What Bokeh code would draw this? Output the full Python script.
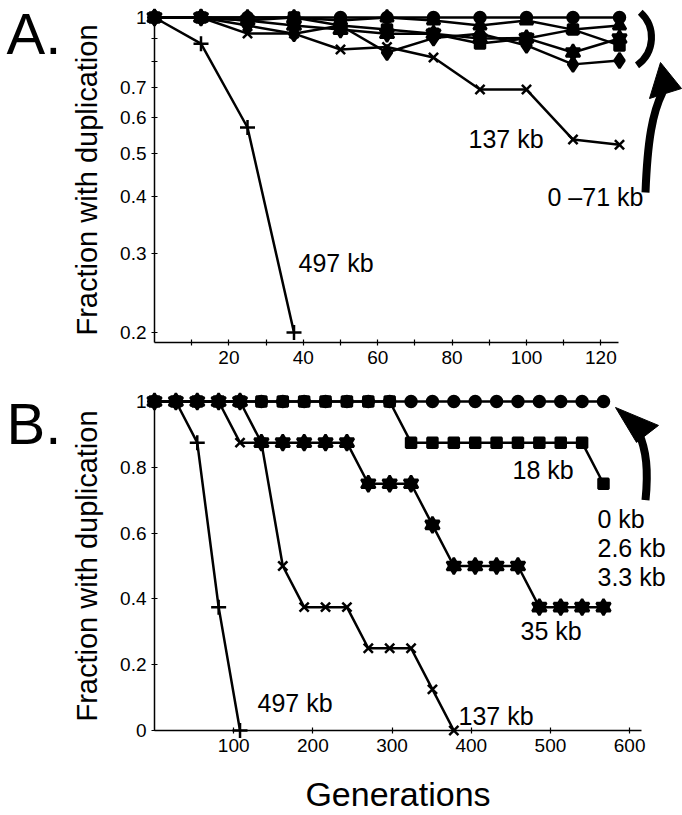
import numpy as np
from bokeh.plotting import figure
from bokeh.layouts import column
from bokeh.models import Range1d, FixedTicker
from bokeh.core.properties import value
from bokeh.embed import file_html
from bokeh.resources import INLINE

FONT = "Liberation Sans"

# ---- Panel A: fraction of lines keeping the duplication (log scale) ----
gen_a = [0, 12.5, 25, 37.5, 50, 62.5, 75, 87.5, 100, 112.5, 125]
a_circle = [1, 1, 1, 1, 1, 1, 1, 1, 1, 1, 1]
a_triangle = [1, 1, 1, 1, 0.985, 1, 0.985, 0.96, 0.985, 0.94, 0.96]
a_square = [1, 1, 0.985, 1, 0.96, 0.94, 0.92, 0.876, 0.898, 0.94, 0.867]
a_diamond = [1, 1, 0.96, 0.92, 0.96, 0.836, 0.9, 0.92, 0.867, 0.787, 0.803]
a_star = [1, 1, 0.985, 0.96, 0.94, 0.92, 0.92, 0.898, 0.9, 0.836, 0.898]
a_137kb = [1, 1, 0.921, 0.921, 0.849, 0.86, 0.815, 0.692, 0.692, 0.536, 0.522]
a_497kb = [1, 0.875, 0.57, 0.2]

a_yticks = [1, 0.7, 0.6, 0.5, 0.4, 0.3, 0.2]
a_yminor = [0.9, 0.8]
a_xticks = [20, 40, 60, 80, 100, 120]
a_xminor = [10, 30, 50, 70, 90, 110]

# ---- Panel B: long-term experiment (linear scale) ----
gen_b = [0, 27, 54, 81, 108, 135, 162, 189, 216, 243, 270,
         297, 324, 351, 378, 405, 432, 459, 486, 513, 540, 567]
b_0kb = [1, 1, 1, 1, 1, 1, 1, 1, 1, 1, 1,
         1, 1, 1, 1, 1, 1, 1, 1, 1, 1, 1]
b_18kb = [1, 1, 1, 1, 1, 1, 1, 1, 1, 1, 1,
          1, 0.875, 0.875, 0.875, 0.875, 0.875, 0.875, 0.875, 0.875, 0.875, 0.75]
b_35kb = [1, 1, 1, 1, 1, 0.875, 0.875, 0.875, 0.875, 0.875, 0.75,
          0.75, 0.75, 0.625, 0.5, 0.5, 0.5, 0.5, 0.375, 0.375, 0.375, 0.375]
b_137kb = [1, 1, 1, 1, 0.875, 0.875, 0.5, 0.375, 0.375, 0.375, 0.25,
           0.25, 0.25, 0.125, 0]
b_497kb = [1, 1, 0.875, 0.375, 0]

b_yticks = [0, 0.2, 0.4, 0.6, 0.8, 1]
b_xticks = [100, 200, 300, 400, 500, 600]

W = 682
HA, HB = 372, 443

# frame geometry of each panel on the page (pixels); both frames share edges
L, R = 154, 641
A_T, A_B = 17, 342
B_T, B_B = 401, 731
A_X = (0, 125 * (R - L) / (619 - L))   # gens 0..125 span 154..619 px
A_Y = (0.19, 1.0)
B_X = (0, 615)
B_Y = (0, 1)


def a_xy(px, py):
    x = A_X[0] + (px - L) / (R - L) * (A_X[1] - A_X[0])
    l0, l1 = np.log10(A_Y[0]), np.log10(A_Y[1])
    y = 10 ** (l0 + (A_B - py) / (A_B - A_T) * (l1 - l0))
    return x, y


def b_xy(px, py):
    x = B_X[0] + (px - L) / (R - L) * (B_X[1] - B_X[0])
    y = B_Y[0] + (B_B - py) / (B_B - B_T) * (B_Y[1] - B_Y[0])
    return x, y


def style(p):
    p.outline_line_color = None
    p.grid.visible = False
    p.background_fill_color = "white"
    p.border_fill_color = "white"
    for ax in p.axis:
        ax.axis_line_color = "black"
        ax.axis_line_width = 1.5
        ax.major_tick_line_color = "black"
        ax.minor_tick_line_color = "black"
        ax.major_tick_line_width = 1.2
        ax.minor_tick_line_width = 1.2
        ax.major_tick_in = 3
        ax.major_tick_out = 3
        ax.minor_tick_in = 3
        ax.minor_tick_out = 3
        ax.major_label_text_font = FONT
        ax.major_label_text_font_size = "19px"
        ax.major_label_text_color = "black"
        ax.axis_label_text_font = FONT
        ax.axis_label_text_font_style = "normal"
        ax.axis_label_text_color = "black"


def series(p, x, y, marker, size, lw=2.5):
    p.line(x, y, line_color="black", line_width=lw, level="overlay")
    # a six-pointed star is drawn as two overlapping triangles
    markers = ["triangle", "inverted_triangle"] if marker == "hexstar" else [marker]
    for m in markers:
        p.scatter(x, y, marker=m, size=size, fill_color="black",
                  line_color="black", line_width=2.5, level="overlay")


def text(p, xy, s, size):
    p.text(x=[xy[0]], y=[xy[1]], text=[s], text_font=value(FONT),
           text_font_size=value(size), text_align="left",
           text_baseline="middle", text_color="black", level="overlay")


def head(p, conv, pts):
    xs, ys = zip(*[conv(px, py) for px, py in pts])
    p.patch(list(xs), list(ys), fill_color="black", line_color="black",
            line_width=1, level="overlay")


def curve(p, conv, pts, lw):
    (x0, y0), (c0x, c0y), (c1x, c1y), (x1, y1) = [conv(*q) for q in pts]
    p.bezier(x0=[x0], y0=[y0], x1=[x1], y1=[y1], cx0=[c0x], cy0=[c0y],
             cx1=[c1x], cy1=[c1y], line_color="black", line_width=lw,
             level="overlay")


# ---------------- Panel A ----------------
pA = figure(width=W, height=HA, x_range=Range1d(*A_X), y_range=Range1d(*A_Y),
            y_axis_type="log", output_backend="svg", toolbar_location=None,
            min_border_left=L, min_border_right=W - R,
            min_border_top=A_T, min_border_bottom=HA - A_B)
style(pA)
pA.xaxis.ticker = FixedTicker(ticks=a_xticks, minor_ticks=a_xminor)
pA.xaxis.bounds = (0, 124.6)
pA.yaxis.ticker = FixedTicker(ticks=a_yticks, minor_ticks=a_yminor)
pA.yaxis.major_label_overrides = {t: f"{t:g}" for t in a_yticks}
pA.yaxis.bounds = (A_Y[0], 1.0)
pA.yaxis.axis_label = "Fraction with duplication"
pA.yaxis.axis_label_text_font_size = "29px"
pA.yaxis.axis_label_standoff = 14

series(pA, gen_a, a_circle, "circle", 11)
series(pA, gen_a, a_triangle, "triangle", 13)
series(pA, gen_a, a_square, "square", 10)
series(pA, gen_a, a_diamond, "diamond", 15)
series(pA, gen_a, a_star, "hexstar", 14)
series(pA, gen_a, a_137kb, "x", 13)
series(pA, gen_a[:len(a_497kb)], a_497kb, "cross", 15)

text(pA, a_xy(6, 33), "A.", "58px")
text(pA, a_xy(298, 262), "497 kb", "25px")
text(pA, a_xy(468, 138), "137 kb", "25px")
text(pA, a_xy(547, 196), "0 \u201371 kb", "25px")

# bracket around the 0-71 kb group
cx, cy = a_xy(617, 37)
pA.arc(x=[cx], y=[cy], radius=34, radius_units="screen",
       start_angle=np.deg2rad(-55), end_angle=np.deg2rad(48),
       line_color="black", line_width=7, level="overlay")
# curved arrow pointing up at the bracket
curve(pA, a_xy, [(645, 192), (647, 140), (652, 112), (662, 92)], 8)
head(pA, a_xy, [(649, 98), (681, 88), (660, 62)])

# ---------------- Panel B ----------------
pB = figure(width=W, height=HB, x_range=Range1d(*B_X), y_range=Range1d(*B_Y),
            output_backend="svg", toolbar_location=None,
            min_border_left=L, min_border_right=W - R,
            min_border_top=B_T - HA, min_border_bottom=HA + HB - B_B)
style(pB)
pB.xaxis.ticker = FixedTicker(ticks=b_xticks)
pB.yaxis.ticker = FixedTicker(ticks=b_yticks)
pB.yaxis.major_label_overrides = {t: f"{t:g}" for t in b_yticks}
pB.yaxis.axis_label = "Fraction with duplication"
pB.yaxis.axis_label_text_font_size = "29px"
pB.yaxis.axis_label_standoff = 14
pB.xaxis.axis_label = "Generations"
pB.xaxis.axis_label_text_font_size = "34px"
pB.xaxis.axis_label_standoff = 20

series(pB, gen_b, b_0kb, "circle", 11)
series(pB, gen_b, b_18kb, "square", 10)
series(pB, gen_b[:len(b_137kb)], b_137kb, "x", 13)
series(pB, gen_b, b_35kb, "hexstar", 14)
series(pB, gen_b[:len(b_497kb)], b_497kb, "cross", 15)

text(pB, b_xy(6, 423), "B.", "58px")
text(pB, b_xy(512, 470), "18 kb", "25px")
text(pB, b_xy(597, 519), "0 kb", "25px")
text(pB, b_xy(597, 548), "2.6 kb", "25px")
text(pB, b_xy(597, 577), "3.3 kb", "25px")
text(pB, b_xy(520, 631), "35 kb", "25px")
text(pB, b_xy(458, 716), "137 kb", "25px")
text(pB, b_xy(257, 703), "497 kb", "25px")

curve(pB, b_xy, [(645, 500), (648, 470), (646, 450), (638, 432)], 8)
head(pB, b_xy, [(615, 407), (658, 425), (636, 442)])

layout = column(pA, pB, spacing=0)
open("out.html", "w").write(file_html(layout, INLINE))
